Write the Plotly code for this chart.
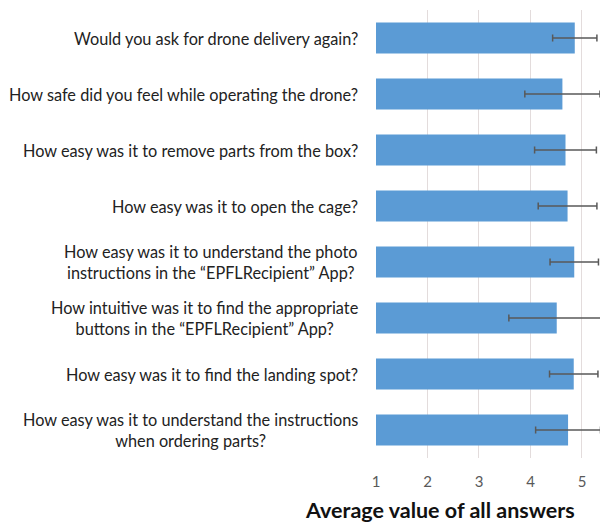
import plotly.graph_objects as go

# Survey questions, top to bottom
questions = [
    "Would you ask for drone delivery again?",
    "How safe did you feel while operating the drone?",
    "How easy was it to remove parts from the box?",
    "How easy was it to open the cage?",
    "How easy was it to understand the photo<br>instructions in the \u201cEPFLRecipient\u201d App?",
    "How intuitive was it to find the appropriate<br>buttons in the \u201cEPFLRecipient\u201d App?",
    "How easy was it to find the landing spot?",
    "How easy was it to understand the instructions<br>when ordering parts?",
]
mean_scores = [4.86, 4.62, 4.68, 4.72, 4.85, 4.51, 4.84, 4.73]
std_devs = [0.43, 0.73, 0.60, 0.57, 0.47, 0.93, 0.47, 0.63]
x_ticks = [1, 2, 3, 4, 5]

W, H = 600, 525
ML, MR, MT, MB = 376, 0, 10, 67

fig = go.Figure(
    go.Bar(
        x=[m - 1 for m in mean_scores],
        base=1,
        y=questions,
        orientation="h",
        width=0.55,
        marker=dict(color="#5b9bd5", line=dict(width=0)),
        error_x=dict(type="data", array=std_devs, visible=True,
                     color="#595959", thickness=1.5, width=3.5),
        hoverinfo="skip",
    )
)

# Category labels: right-aligned block, centred lines
for q in questions:
    fig.add_annotation(
        x=0, xref="paper", xshift=-16, xanchor="right",
        y=q, yref="y", yanchor="middle",
        text=q, showarrow=False, align="center",
        font=dict(family="Lato", size=16.3, color="#222222"),
    )

# Axis title
fig.add_annotation(
    x=(440 - ML) / (W - ML - MR), xref="paper", xanchor="center",
    y=-52 / (H - MT - MB), yref="paper", yanchor="middle",
    text="<b>Average value of all answers</b>", showarrow=False,
    font=dict(family="Lato", size=21.5, color="#111111"),
)

fig.update_xaxes(
    range=[1, 5.35],
    tickvals=x_ticks,
    showgrid=True, gridcolor="#e3dcdc", gridwidth=1.2,
    zeroline=False, showline=False,
    ticks="outside", ticklen=10, tickcolor="rgba(0,0,0,0)",
    tickfont=dict(family="Lato", size=15, color="#595959"),
)
fig.update_yaxes(
    categoryorder="array", categoryarray=questions,
    autorange="reversed",
    showticklabels=False, showgrid=False, zeroline=False, showline=False,
)

fig.update_layout(
    width=W, height=H,
    margin=dict(l=ML, r=MR, t=MT, b=MB),
    paper_bgcolor="white", plot_bgcolor="white",
    showlegend=False,
    bargap=0.45,
)

fig.write_html("out.html")
